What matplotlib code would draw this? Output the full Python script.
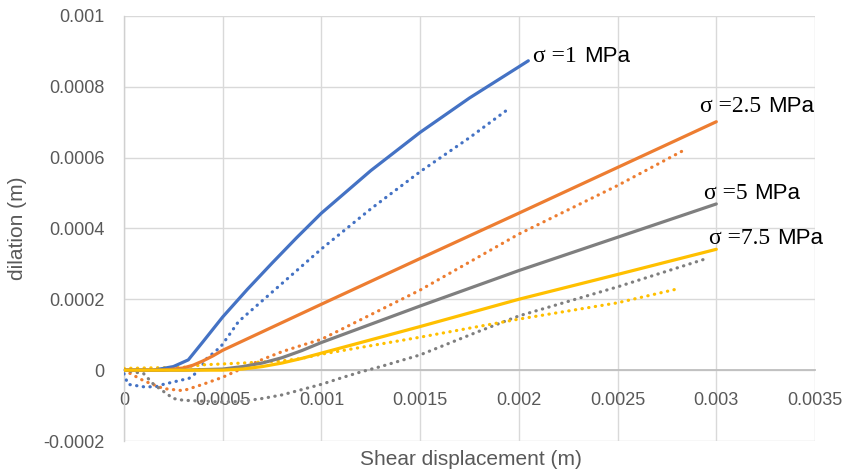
import matplotlib
matplotlib.use("Agg")
import matplotlib.pyplot as plt

# shear displacement (m) / dilation (m), solid and dotted curve for each normal stress
x_1_solid = [0, 0.00015, 0.00025, 0.000326, 0.0004, 0.0005, 0.000625, 0.00075, 0.000875, 0.001, 0.00125, 0.0015, 0.00175, 0.002, 0.002048]
y_1_solid = [0, 0, 0.00001, 0.000029, 0.00008, 0.00015, 0.000228, 0.000302, 0.000374, 0.000443, 0.000563, 0.000671, 0.000768, 0.000856, 0.000873]
x_1_dot = [0, 0.00002, 0.0001, 0.00016, 0.0002, 0.00033, 0.000375, 0.00042, 0.00049, 0.00054, 0.00058, 0.00075, 0.001, 0.00125, 0.0015, 0.00175, 0.001935]
y_1_dot = [-0.00001, -0.00004, -0.000047, -0.000047, -0.00004, -0.000023, -0.000004, 0.000033, 0.000066, 0.000105, 0.000137, 0.00022, 0.000342, 0.000455, 0.00056, 0.000656, 0.000732]

x_25_solid = [0, 0.0002, 0.0003, 0.00035, 0.0004, 0.00045, 0.0005, 0.001, 0.0015, 0.002, 0.0025, 0.003]
y_25_solid = [0, 0, 0.000006, 0.000014, 0.000026, 0.00004, 0.000056, 0.000186, 0.000315, 0.000443, 0.000572, 0.000701]
x_25_dot = [0, 0.0001, 0.0002, 0.0003, 0.0004, 0.0005, 0.0006, 0.0007, 0.0008, 0.0009, 0.001, 0.0015, 0.002, 0.0025, 0.002837]
y_25_dot = [0, -0.00003, -0.000052, -0.000058, -0.00004, -0.00002, 0.000005, 0.00003, 0.000052, 0.00007, 0.000087, 0.000226, 0.000384, 0.000521, 0.000621]

x_5_solid = [0, 0.0003, 0.0005, 0.0006, 0.0007, 0.0008, 0.0009, 0.001, 0.0015, 0.002, 0.0025, 0.003]
y_5_solid = [0, 0, 0.000003, 0.00001, 0.00002, 0.000035, 0.000055, 0.000078, 0.000181, 0.000281, 0.000375, 0.000469]
x_5_dot = [0, 0.0001, 0.00015, 0.0002, 0.00025, 0.0003, 0.0005, 0.0006, 0.0007, 0.0008, 0.0009, 0.001, 0.0011, 0.0012, 0.0013, 0.0015, 0.0018, 0.002, 0.0025, 0.00294]
y_5_dot = [0, -0.00001, -0.00004, -0.00006, -0.00008, -0.000085, -0.00009, -0.000088, -0.00008, -0.00007, -0.000055, -0.00004, -0.000022, -0.000005, 0.00001, 0.000043, 0.00011, 0.000153, 0.000235, 0.000313]

x_75_solid = [0, 0.0005, 0.0006, 0.0007, 0.0008, 0.0009, 0.001, 0.0015, 0.002, 0.0025, 0.003]
y_75_solid = [0, 0, 0.000003, 0.00001, 0.00002, 0.000033, 0.000048, 0.000123, 0.0002, 0.00027, 0.000341]
x_75_dot = [0, 0.0003, 0.0004, 0.0006, 0.0008, 0.0009, 0.001, 0.0015, 0.002, 0.0025, 0.002817]
y_75_dot = [0.000005, 0.000008, 0.000015, 0.00002, 0.000026, 0.000033, 0.000045, 0.000093, 0.000144, 0.00019, 0.000231]

stress_labels = ["\u03c3 =1", "\u03c3 =2.5", "\u03c3 =5", "\u03c3 =7.5"]
label_x = [0.002072, 0.002918, 0.002938, 0.002965]
label_y = [0.000884, 0.000743, 0.000499, 0.000372]

x_ticks = [0, 0.0005, 0.001, 0.0015, 0.002, 0.0025, 0.003, 0.0035]
x_tick_labels = ["0", "0.0005", "0.001", "0.0015", "0.002", "0.0025", "0.003", "0.0035"]
y_ticks = [-0.0002, 0, 0.0002, 0.0004, 0.0006, 0.0008, 0.001]
y_tick_labels = ["-0.0002", "0", "0.0002", "0.0004", "0.0006", "0.0008", "0.001"]

colors = ["#4472C4", "#ED7D31", "#7F7F7F", "#FFC000"]

plt.rcParams['font.family'] = ['Liberation Sans', 'DejaVu Sans']

fig = plt.figure(figsize=(8.45, 4.74), dpi=100)
ax = fig.add_axes([0.1467, 0.0696, 0.8178, 0.8971])

solids = [(x_1_solid, y_1_solid), (x_25_solid, y_25_solid), (x_5_solid, y_5_solid), (x_75_solid, y_75_solid)]
dots = [(x_1_dot, y_1_dot), (x_25_dot, y_25_dot), (x_5_dot, y_5_dot), (x_75_dot, y_75_dot)]

# dotted first so the solid curves sit on top
for (xs, ys), c in zip(dots, colors):
    ax.plot(xs, ys, color=c, lw=2.3, linestyle=(0, (0.1, 2.0)),
            dash_capstyle='round', solid_capstyle='round',
            solid_joinstyle='round', zorder=3)
for (xs, ys), c in zip(solids, colors):
    ax.plot(xs, ys, color=c, lw=2.3, solid_capstyle='round',
            solid_joinstyle='round', zorder=4)

ax.set_xlim(0, 0.0035)
ax.set_ylim(-0.0002, 0.001)
ax.set_xticks(x_ticks)
ax.set_xticklabels(x_tick_labels)
ax.set_yticks(y_ticks)
ax.set_yticklabels(y_tick_labels)

ax.grid(True, color="#D9D9D9", lw=1.0, zorder=0)
ax.set_axisbelow(True)
for side in ["top", "right"]:
    ax.spines[side].set_visible(False)
ax.spines['bottom'].set_position(('data', 0))
ax.spines['bottom'].set_color("#BFBFBF")
ax.spines['bottom'].set_linewidth(1.3)
ax.spines['left'].set_color("#D0D0D0")
ax.spines['left'].set_linewidth(1.0)
ax.tick_params(axis='both', length=0, labelsize=13, colors="#595959")
ax.tick_params(axis='x', pad=16)
ax.tick_params(axis='y', pad=14)

ax.set_ylabel("dilation (m)", fontsize=15, color="#595959", labelpad=12)
fig.text(0.557, 0.03, "Shear displacement (m)", fontsize=15, color="#595959",
         ha='center', va='center')

for lab, lx, ly in zip(stress_labels, label_x, label_y):
    t = ax.text(lx, ly, lab, fontsize=17, family='Liberation Serif',
                ha='left', va='center', color='black', zorder=5)
    ax.annotate("MPa", xy=(1, 0), xycoords=t, xytext=(5, 0),
                textcoords='offset points', fontsize=16, ha='left',
                va='bottom', color='black', zorder=5)

fig.savefig("out.png", dpi=100)
